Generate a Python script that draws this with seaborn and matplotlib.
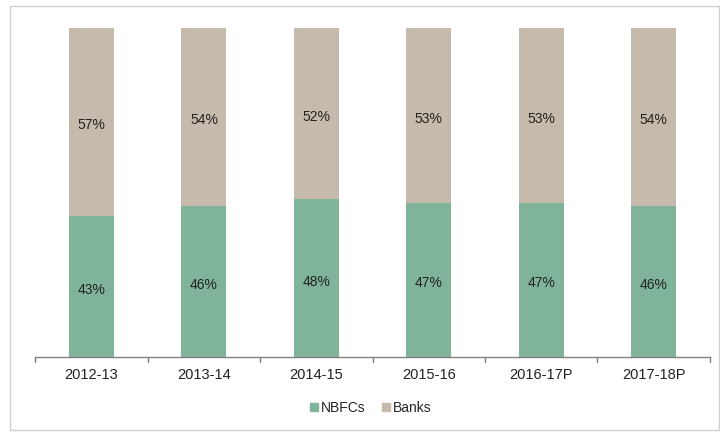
import matplotlib
matplotlib.use("Agg")
import matplotlib.pyplot as plt
import matplotlib.patches as mpatches
import seaborn as sns
import pandas as pd

years = ["2012-13", "2013-14", "2014-15", "2015-16", "2016-17P", "2017-18P"]
nbfcs = [43, 46, 48, 47, 47, 46]
banks = [57, 54, 52, 53, 53, 54]

green = "#7fb49b"
beige = "#c5baab"

sns.set_theme(style="white")
plt.rcParams["font.family"] = ["Liberation Sans", "DejaVu Sans"]

df = pd.DataFrame({"year": years, "NBFCs": nbfcs, "Banks": banks})
df["total"] = df["NBFCs"] + df["Banks"]

fig = plt.figure(figsize=(7.2, 4.34), dpi=100)
ax = fig.add_axes([0.049, 0.177, 0.937, 0.758])

# stacked bars: full height in beige, NBFC share in green on top of it
sns.barplot(data=df, x="year", y="total", color=beige, width=0.4,
            saturation=1, ax=ax, edgecolor="none")
sns.barplot(data=df, x="year", y="NBFCs", color=green, width=0.4,
            saturation=1, ax=ax, edgecolor="none")

for i, (n, b) in enumerate(zip(nbfcs, banks)):
    ax.text(i, n / 2 - 1, f"{n}%", ha="center", va="center", fontsize=10, color="#222222")
    ax.text(i, n + b / 2 - 1, f"{b}%", ha="center", va="center", fontsize=10, color="#222222")

ax.set_ylim(0, 100)
ax.set_xlim(-0.5, len(years) - 0.5)
ax.set_xlabel("")
ax.set_ylabel("")
ax.set_yticks([])
for s in ["top", "right", "left"]:
    ax.spines[s].set_visible(False)
ax.spines["bottom"].set_color("#808080")
ax.spines["bottom"].set_linewidth(1)
ax.set_xticks(range(len(years)))
ax.set_xticklabels(years, fontsize=10.5, color="#222222")
ax.tick_params(axis="x", length=0, pad=8)
# category boundary tick marks
for x in [i - 0.5 for i in range(len(years) + 1)]:
    ax.plot([x, x], [0, -1.5], color="#808080", lw=1, clip_on=False)

handles = [mpatches.Patch(color=green, label="NBFCs"),
           mpatches.Patch(color=beige, label="Banks")]
fig.legend(handles=handles, loc="center", bbox_to_anchor=(0.515, 0.06), ncol=2,
           frameon=False, fontsize=10, handlelength=0.6, handleheight=0.6,
           handletextpad=0.2, columnspacing=1.2)

# outer chart frame
fig.patches.append(mpatches.Rectangle((0.014, 0.01), 0.985, 0.977, transform=fig.transFigure,
                                      fill=False, edgecolor="#d0d0d0", lw=1))

fig.savefig("out.png", dpi=100)
